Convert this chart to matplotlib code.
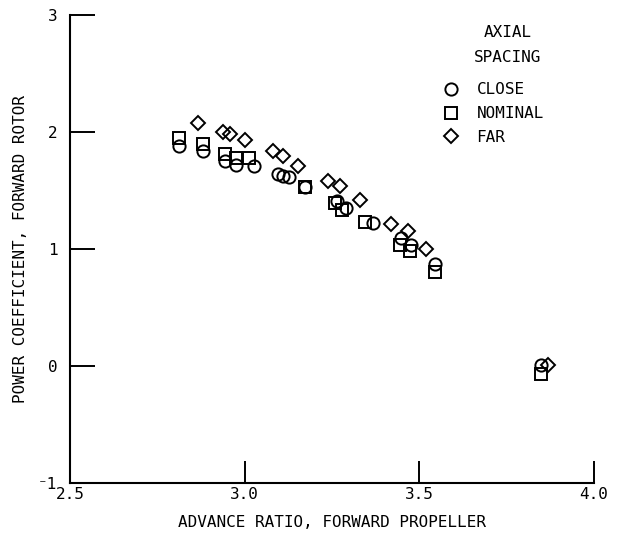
import matplotlib
matplotlib.use("Agg")
import matplotlib.pyplot as plt
from matplotlib.lines import Line2D

# === Data ===
close_x = [2.813, 2.881, 2.943, 2.975, 3.028, 3.096, 3.11, 3.128, 3.174,
           3.265, 3.29, 3.368, 3.447, 3.477, 3.546, 3.85]
close_y = [1.88, 1.84, 1.755, 1.72, 1.71, 1.64, 1.626, 1.618, 1.53,
           1.41, 1.35, 1.22, 1.09, 1.03, 0.87, 0.01]

nominal_x = [2.813, 2.881, 2.943, 2.977, 3.012, 3.174, 3.258, 3.28,
             3.344, 3.444, 3.473, 3.546, 3.85]
nominal_y = [1.946, 1.90, 1.81, 1.775, 1.775, 1.53, 1.395, 1.335,
             1.233, 1.03, 0.985, 0.806, -0.07]

far_x = [2.867, 2.939, 2.958, 3.0, 3.082, 3.11, 3.153, 3.239, 3.272,
         3.33, 3.42, 3.467, 3.52, 3.87]
far_y = [2.08, 2.00, 1.98, 1.93, 1.84, 1.79, 1.71, 1.584, 1.54,
         1.42, 1.21, 1.15, 1.00, 0.01]

x_ticks = [2.5, 3.0, 3.5, 4.0]
x_ticklabels = ["2.5", "3.0", "3.5", "4.0"]
y_ticks = [-1, 0, 1, 2, 3]
y_ticklabels = ["\u207b1", "0", "1", "2", "3"]

plt.rcParams['font.family'] = ['DejaVu Sans Mono']
plt.rcParams['font.size'] = 11.5

fig = plt.figure(figsize=(6.18, 5.33), dpi=100)
ax = fig.add_axes([0.113, 0.094, 0.848, 0.878])

mk = dict(linestyle='none', markerfacecolor='none', markeredgecolor='black',
          markeredgewidth=1.4)
ax.plot(close_x, close_y, marker='o', markersize=8.8, **mk)
ax.plot(nominal_x, nominal_y, marker='s', markersize=8.3, **mk)
ax.plot(far_x, far_y, marker='D', markersize=7, **mk)

ax.set_xlim(2.5, 4.0)
ax.set_ylim(-1, 3)
ax.set_xticks(x_ticks)
ax.set_xticklabels(x_ticklabels)
ax.set_yticks(y_ticks)
ax.set_yticklabels(y_ticklabels)

for side in ['top', 'right']:
    ax.spines[side].set_visible(False)
for side in ['left', 'bottom']:
    ax.spines[side].set_linewidth(1.5)

ax.tick_params(axis='both', direction='in', width=1.4, colors='black')
ax.tick_params(axis='x', length=16, pad=3)
ax.tick_params(axis='y', length=18, pad=9)

ax.set_xlabel("ADVANCE RATIO, FORWARD PROPELLER", labelpad=9)
ax.set_ylabel("POWER COEFFICIENT, FORWARD ROTOR", labelpad=7)

# legend title as plain text, centred over the entry labels
ax.text(0.836, 0.962, "AXIAL", transform=ax.transAxes, ha='center', va='center')
ax.text(0.836, 0.910, "SPACING", transform=ax.transAxes, ha='center', va='center')

handles = [
    Line2D([], [], marker='o', markersize=8.8, **mk),
    Line2D([], [], marker='s', markersize=8.3, **mk),
    Line2D([], [], marker='D', markersize=7, **mk),
]
ax.legend(handles, ["CLOSE", "NOMINAL", "FAR"],
          frameon=False, loc='upper left', bbox_to_anchor=(0.712, 0.856),
          handlelength=1.0, handletextpad=1.1, labelspacing=0.55,
          borderpad=0.0, borderaxespad=0.0)

fig.savefig("out.png", dpi=100)
